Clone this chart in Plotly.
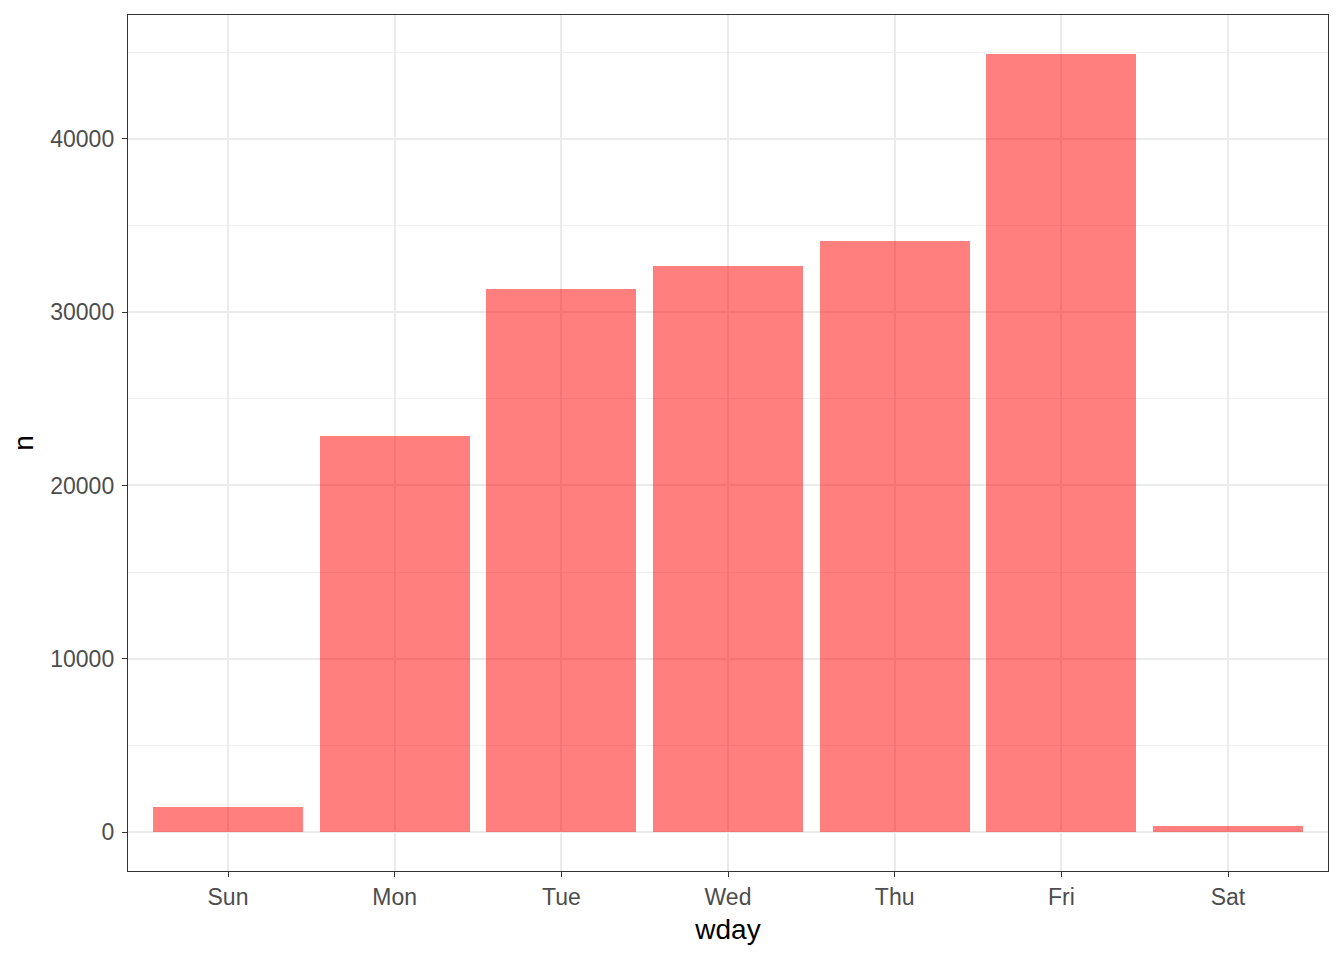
import plotly.graph_objects as go

days = ["Sun", "Mon", "Tue", "Wed", "Thu", "Fri", "Sat"]
counts = [1420, 22830, 31350, 32670, 34110, 44900, 330]
y_ticks = [0, 10000, 20000, 30000, 40000]

ymax = max(counts)
pad = ymax * 0.05

fig = go.Figure()
fig.add_trace(go.Bar(
    x=list(range(len(days))), y=counts, width=0.9,
    marker=dict(color="rgba(255,0,0,0.5)", line=dict(width=0)),
    showlegend=False,
))

font = "Liberation Sans, Arial, sans-serif"
fig.update_layout(
    width=1344, height=960,
    margin=dict(l=128, r=16, t=15, b=89),
    plot_bgcolor="white", paper_bgcolor="white",
    font=dict(family=font, color="#4D4D4D"),
    bargap=0,
)
fig.update_xaxes(
    range=[-0.6, len(days) - 0.4],
    tickmode="array", tickvals=list(range(len(days))), ticktext=days,
    showgrid=True, gridcolor="#EBEBEB", gridwidth=1.6,
    zeroline=False,
    showline=True, linecolor="#333333", linewidth=1.4, mirror=True,
    ticks="outside", ticklen=5, tickcolor="#333333", tickwidth=1.4,
    tickfont=dict(size=23, color="#4D4D4D", family=font),
    title=dict(text="wday", font=dict(size=28, color="black", family=font), standoff=10),
)
fig.update_yaxes(
    range=[-pad, ymax + pad],
    tickmode="array", tickvals=y_ticks, ticktext=[str(v) for v in y_ticks],
    showgrid=True, gridcolor="#EBEBEB", gridwidth=1.6,
    minor=dict(showgrid=True, gridcolor="#EFEFEF", gridwidth=0.9, dtick=5000, tick0=5000),
    zeroline=False,
    showline=True, linecolor="#333333", linewidth=1.4, mirror=True,
    ticks="outside", ticklen=5, tickcolor="#333333", tickwidth=1.4,
    ticklabelstandoff=3,
    tickfont=dict(size=23, color="#4D4D4D", family=font),
    title=dict(text="n", font=dict(size=28, color="black", family=font), standoff=8),
)

fig.write_html("out.html")
